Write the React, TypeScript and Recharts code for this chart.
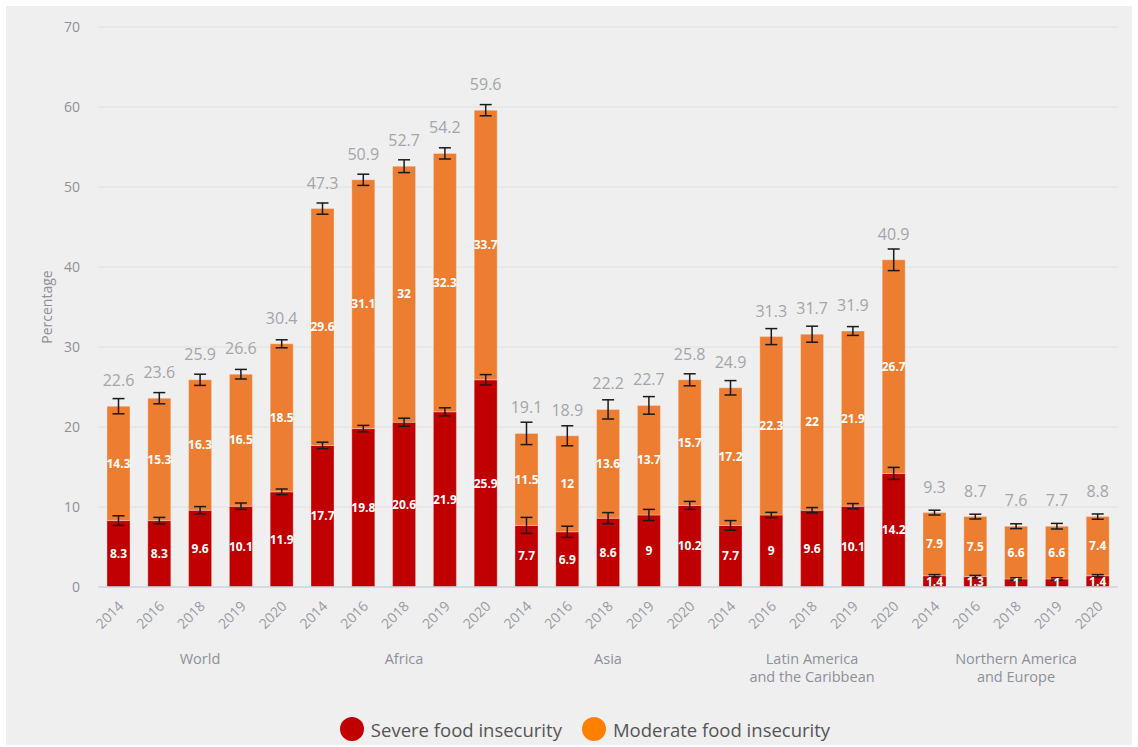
import React from "react";
import {
  Bar,
  BarChart,
  CartesianGrid,
  ErrorBar,
  LabelList,
  Legend,
  XAxis,
  YAxis
} from "recharts";

const years = ["2014", "2016", "2018", "2019", "2020"];
const regions = [
  "World",
  "Africa",
  "Asia",
  "Latin America|and the Caribbean",
  "Northern America|and Europe"
];

const severe = [
  8.3, 8.3, 9.6, 10.1, 11.9,
  17.7, 19.8, 20.6, 21.9, 25.9,
  7.7, 6.9, 8.6, 9, 10.2,
  7.7, 9, 9.6, 10.1, 14.2,
  1.4, 1.3, 1, 1, 1.4
];
const moderate = [
  14.3, 15.3, 16.3, 16.5, 18.5,
  29.6, 31.1, 32, 32.3, 33.7,
  11.5, 12, 13.6, 13.7, 15.7,
  17.2, 22.3, 22, 21.9, 26.7,
  7.9, 7.5, 6.6, 6.6, 7.4
];
const totals = [
  22.6, 23.6, 25.9, 26.6, 30.4,
  47.3, 50.9, 52.7, 54.2, 59.6,
  19.1, 18.9, 22.2, 22.7, 25.8,
  24.9, 31.3, 31.7, 31.9, 40.9,
  9.3, 8.7, 7.6, 7.7, 8.8
];
const severeErr = [
  0.6, 0.4, 0.45, 0.4, 0.35,
  0.4, 0.4, 0.5, 0.5, 0.65,
  1.0, 0.7, 0.7, 0.7, 0.5,
  0.6, 0.33, 0.33, 0.33, 0.75,
  0.15, 0.15, 0.15, 0.15, 0.15
];
const totalErr = [
  0.95, 0.7, 0.7, 0.6, 0.5,
  0.7, 0.7, 0.8, 0.7, 0.7,
  1.4, 1.25, 1.2, 1.1, 0.75,
  0.9, 1.0, 1.0, 0.55, 1.35,
  0.3, 0.3, 0.3, 0.35, 0.33
];
const yTicks = [0, 10, 20, 30, 40, 50, 60, 70];

const data = severe.map((s, i) => ({
  id: i,
  year: years[i % 5],
  region: regions[Math.floor(i / 5)],
  severe: s,
  moderate: moderate[i],
  total: totals[i],
  severeErr: severeErr[i],
  totalErr: totalErr[i]
}));

const FONT = "'Open Sans', sans-serif";
const RED = "#c00000";
const ORANGE = "#ed7d31";

function YearTick(props: any) {
  const { x, y, payload, index } = props;
  const showGroup = index % 5 === 2;
  const lines = showGroup ? regions[Math.floor(index / 5)].split("|") : [];
  return (
    <g>
      <g transform={`translate(${x + 6},${y + 12})`}>
        <text
          textAnchor="end"
          transform="rotate(-45)"
          fontSize={14}
          fill="#979aa2"
          fontFamily={FONT}
        >
          {payload.value}
        </text>
      </g>
      {lines.map((l, k) => (
        <text
          key={k}
          x={x}
          y={y + 69 + k * 18}
          textAnchor="middle"
          fontSize={14.5}
          fill="#8e9099"
          fontFamily={FONT}
        >
          {l}
        </text>
      ))}
    </g>
  );
}

function LegendBox() {
  const items = [
    { label: "Severe food insecurity", color: "#c00000" },
    { label: "Moderate food insecurity", color: "#ff8000" }
  ];
  return (
    <div
      style={{
        display: "flex",
        justifyContent: "center",
        alignItems: "center",
        height: 28,
        paddingLeft: 26,
        fontFamily: FONT,
        fontSize: 18.5,
        color: "#555"
      }}
    >
      {items.map((it) => (
        <div key={it.label} style={{ display: "flex", alignItems: "center", margin: "0 10px" }}>
          <span
            style={{
              width: 24,
              height: 24,
              borderRadius: 12,
              background: it.color,
              display: "inline-block",
              marginRight: 7
            }}
          />
          <span>{it.label}</span>
        </div>
      ))}
    </div>
  );
}

export default function App() {
  return (
    <div style={{ position: "absolute", left: 0, top: 0, width: 1138, height: 747, background: "#fff" }}>
      <div style={{ position: "absolute", left: 6, top: 6, width: 1126, height: 739, background: "#efefef" }}>
        <BarChart
          width={1126}
          height={739}
          data={data}
          margin={{ top: 21, right: 14, left: 20, bottom: 2 }}
          barSize={23}
        >
          <CartesianGrid vertical={false} stroke="#e0e0e0" />
          <XAxis
            dataKey="year"
            interval={0}
            height={128}
            tickLine={false}
            axisLine={{ stroke: "#cdd5e4", strokeWidth: 1.5 }}
            tick={<YearTick />}
          />
          <YAxis
            width={72}
            domain={[0, 70]}
            ticks={yTicks}
            tickLine={false}
            axisLine={false}
            tickMargin={12}
            tick={{ fontSize: 14, fill: "#8e9099", fontFamily: FONT }}
            label={{
              value: "Percentage",
              angle: -90,
              position: "insideLeft",
              offset: 21,
              style: { textAnchor: "middle", fontSize: 14, fill: "#8e9099", fontFamily: FONT }
            }}
          />
          <Legend verticalAlign="bottom" content={<LegendBox />} />
          <Bar
            dataKey="severe"
            name="Severe food insecurity"
            stackId="a"
            fill={RED}
            stroke="#fff"
            strokeOpacity={0.3}
            isAnimationActive={false}
          >
            <ErrorBar dataKey="severeErr" width={6} stroke="#1a1a1a" strokeWidth={1.5} />
            <LabelList
              dataKey="severe"
              position="center"
              fill="#fff"
              fontSize={12}
              fontWeight={700}
              fontFamily={FONT}
            />
          </Bar>
          <Bar
            dataKey="moderate"
            name="Moderate food insecurity"
            stackId="a"
            fill={ORANGE}
            stroke="#fff"
            strokeOpacity={0.3}
            isAnimationActive={false}
          >
            <ErrorBar dataKey="totalErr" width={6} stroke="#1a1a1a" strokeWidth={1.5} />
            <LabelList
              dataKey="moderate"
              position="center"
              fill="#fff"
              fontSize={12}
              fontWeight={700}
              fontFamily={FONT}
            />
            <LabelList
              dataKey="total"
              position="top"
              offset={20}
              fill="#a3a5ab"
              fontSize={16}
              fontFamily={FONT}
            />
          </Bar>
        </BarChart>
      </div>
    </div>
  );
}
